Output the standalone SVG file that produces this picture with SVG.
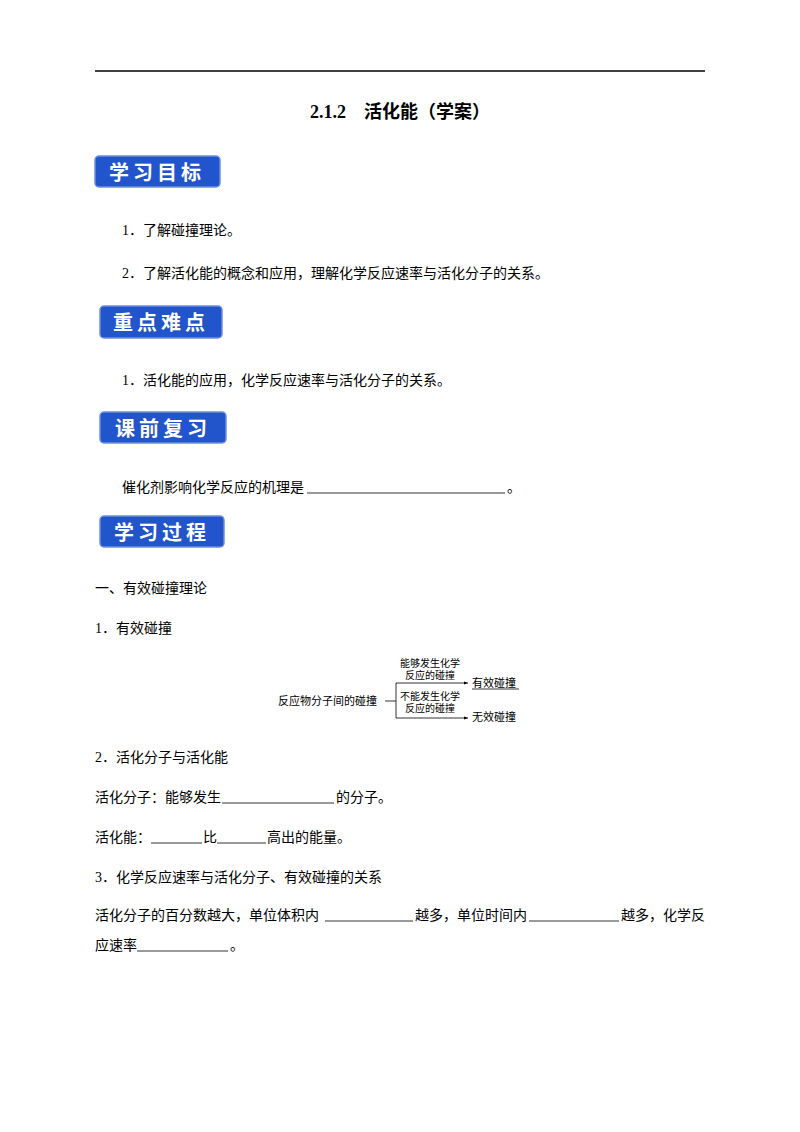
<svg xmlns="http://www.w3.org/2000/svg" width="800" height="1132" viewBox="0 0 800 1132">
<style>
text{font-family:"Liberation Serif","Noto Sans CJK SC",serif;font-size:14px;fill:#000}
.b rect{fill:#2255cc;stroke:#6f8fe0;stroke-width:1.5}
.b text{font-family:"Noto Sans CJK SC",sans-serif;font-size:20px;font-weight:bold;fill:#fff;letter-spacing:4px}
.s{font-size:10px}
.u{stroke:#000;stroke-width:0.8}
</style>
<defs><marker id="a" markerWidth="6" markerHeight="6" refX="5" refY="3" orient="auto"><path d="M0,1 L5,3 L0,5 z" fill="#000"/></marker></defs>
<rect width="800" height="1132" fill="#fff"/>
<line x1="95" y1="71" x2="705" y2="71" stroke="#000" stroke-width="1.5"/>
<text x="400" y="118" text-anchor="middle" style="font-size:18px;font-weight:bold">2.1.2　活化能（学案）</text>
<g id="b1" class="b"><rect x="95" y="156" width="125" height="31" rx="4"/><text x="157" y="180" text-anchor="middle">学习目标</text></g>
<text x="122" y="235">1．了解碰撞理论。</text>
<text x="122" y="278">2．了解活化能的概念和应用，理解化学反应速率与活化分子的关系。</text>
<g id="b2" class="b"><rect x="100" y="306" width="122" height="32" rx="4"/><text x="161" y="330" text-anchor="middle">重点难点</text></g>
<text x="122" y="385">1．活化能的应用，化学反应速率与活化分子的关系。</text>
<g id="b3" class="b"><rect x="100" y="412" width="126" height="31" rx="4"/><text x="163" y="436" text-anchor="middle">课前复习</text></g>
<text x="122" y="492">催化剂影响化学反应的机理是</text>
<line class="u" x1="307" y1="493" x2="505" y2="493"/>
<text x="507" y="492">。</text>
<g id="b4" class="b"><rect x="100" y="516" width="124" height="31" rx="4"/><text x="162" y="540" text-anchor="middle">学习过程</text></g>
<text x="95" y="593">一、有效碰撞理论</text>
<text x="95" y="633">1．有效碰撞</text>
<g id="n1"><text x="278" y="705" class="s" style="font-size:11px">反应物分子间的碰撞</text></g>
<g id="n2"><text x="430" y="667" class="s" text-anchor="middle">能够发生化学</text><text x="430" y="679" class="s" text-anchor="middle">反应的碰撞</text></g>
<g id="n3"><text x="430" y="700" class="s" text-anchor="middle">不能发生化学</text><text x="430" y="712" class="s" text-anchor="middle">反应的碰撞</text></g>
<g id="n4"><text x="472" y="687" style="font-size:11px">有效碰撞</text><line class="u" x1="472" y1="689" x2="519" y2="689"/></g>
<g id="n5"><text x="472" y="721" style="font-size:11px">无效碰撞</text></g>
<g id="c" stroke="#000" stroke-width="0.8" fill="none">
<line x1="385" y1="701" x2="396" y2="701"/>
<line x1="396" y1="683" x2="396" y2="718"/>
<line x1="396" y1="683" x2="468" y2="683" marker-end="url(#a)"/>
<line x1="396" y1="718" x2="468" y2="718" marker-end="url(#a)"/>
</g>
<text x="95" y="762">2．活化分子与活化能</text>
<text x="95" y="802">活化分子：能够发生</text>
<line class="u" x1="222" y1="803" x2="334" y2="803"/>
<text x="336" y="802">的分子。</text>
<text x="95" y="842">活化能：</text>
<line class="u" x1="151" y1="843" x2="202" y2="843"/>
<text x="203" y="842">比</text>
<line class="u" x1="217" y1="843" x2="266" y2="843"/>
<text x="267" y="842">高出的能量。</text>
<text x="95" y="882">3．化学反应速率与活化分子、有效碰撞的关系</text>
<text x="95" y="920">活化分子的百分数越大，单位体积内</text>
<line class="u" x1="325" y1="921" x2="413" y2="921"/>
<text x="415" y="920">越多，单位时间内</text>
<line class="u" x1="529" y1="921" x2="619" y2="921"/>
<text x="621" y="920">越多，化学反</text>
<text x="95" y="950">应速率</text>
<line class="u" x1="137" y1="951" x2="228" y2="951"/>
<text x="230" y="950">。</text>
</svg>
